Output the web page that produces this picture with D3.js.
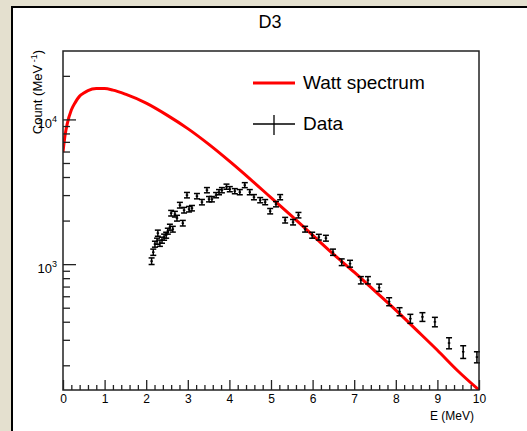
<!DOCTYPE html>
<html>
<head>
<meta charset="utf-8">
<script src="https://cdn.jsdelivr.net/npm/d3@7"></script>
<style>
  html, body { margin: 0; padding: 0; background: #e4e0cf; }
  svg { display: block; }
  text { font-family: "Liberation Sans", Arial, Helvetica, sans-serif; fill: #000; }
</style>
</head>
<body>
<script>
// ---- data ----
const wattE = [0, 0.05, 0.1, 0.2, 0.3, 0.4, 0.5, 0.6, 0.8, 1.0, 1.2, 1.5, 2.0, 2.5, 3.0, 3.5, 4.0, 4.5, 5.0, 5.5, 6.0, 6.5, 7.0, 7.5, 8.0, 8.5, 9.0, 9.5, 10.0];
const wattCount = [5940, 7790, 9280, 11600, 13170, 14490, 15200, 15810, 16330, 16330, 15940, 14950, 12960, 10710, 8640, 6750, 5150, 3870, 2880, 2146, 1586, 1172, 880, 651, 481, 350, 254, 182, 135];

const dataE = [2.13, 2.17, 2.21, 2.26, 2.28, 2.33, 2.38, 2.43, 2.48, 2.52, 2.57, 2.60, 2.64, 2.69, 2.74, 2.81, 2.88, 2.91, 2.98, 3.03, 3.10, 3.22, 3.34, 3.46, 3.51, 3.58, 3.68, 3.75, 3.82, 3.93, 4.01, 4.13, 4.25, 4.37, 4.49, 4.59, 4.74, 4.86, 4.98, 5.12, 5.22, 5.34, 5.53, 5.66, 5.82, 5.99, 6.15, 6.32, 6.49, 6.70, 6.90, 7.16, 7.33, 7.60, 7.84, 8.09, 8.35, 8.64, 8.94, 9.28, 9.62, 9.95];
const dataCount = [1049, 1210, 1375, 1442, 1638, 1397, 1465, 1537, 1586, 1691, 1802, 2251, 1745, 2216, 2079, 2557, 1920, 2361, 2999, 2399, 2438, 2951, 2683, 3246, 2813, 2813, 2999, 3145, 3246, 3432, 3298, 3195, 3145, 3516, 3145, 2904, 2769, 2683, 2324, 2598, 2904, 2014, 1951, 2181, 1745, 1586, 1537, 1512, 1210, 1032, 1008, 775, 775, 688, 551, 470, 420, 432, 399, 285, 248, 228];
const dataErr = [55, 60, 65, 70, 80, 70, 70, 75, 75, 80, 85, 100, 80, 100, 95, 115, 85, 105, 130, 105, 105, 125, 115, 135, 120, 120, 125, 130, 135, 140, 135, 130, 130, 140, 130, 120, 115, 110, 100, 110, 120, 90, 85, 95, 80, 75, 70, 70, 60, 55, 55, 45, 45, 40, 35, 30, 30, 30, 30, 25, 25, 20];
const dataXErr = 0.03;

const xMajorTicks = [0, 1, 2, 3, 4, 5, 6, 7, 8, 9, 10];
const yMajorTicks = [1000, 10000];
const yMinorTicks = [200, 300, 400, 500, 600, 700, 800, 900, 2000, 3000, 4000, 5000, 6000, 7000, 8000, 9000, 20000];

const titleText = "D3";
const xTitle = "E (MeV)";
const legendLabels = ["Watt spectrum", "Data"];

// ---- layout ----
const W = 527, H = 431;
const frame = { left: 63, right: 479, top: 51, bottom: 390 };

const svg = d3.select("body").append("svg").attr("width", W).attr("height", H);

// panel
svg.append("rect").attr("x", 11).attr("y", 7).attr("width", W).attr("height", H).attr("fill", "#fff");
svg.append("path").attr("d", `M12,${H} L12,7 L${W},7`).attr("fill", "none").attr("stroke", "#000").attr("stroke-width", 2);

const x = d3.scaleLinear().domain([0, 10]).range([frame.left, frame.right]);
const y = d3.scaleLog().domain([135, 29700]).range([frame.bottom, frame.top]);

// clip
svg.append("defs").append("clipPath").attr("id", "clip")
  .append("rect").attr("x", frame.left).attr("y", frame.top)
  .attr("width", frame.right - frame.left).attr("height", frame.bottom - frame.top);

// Watt spectrum
const watt = wattE.map((e, i) => ({ e, c: wattCount[i] }));
svg.append("path").datum(watt)
  .attr("clip-path", "url(#clip)")
  .attr("fill", "none").attr("stroke", "#ff0000").attr("stroke-width", 3)
  .attr("d", d3.line().x(d => x(d.e)).y(d => y(d.c)).curve(d3.curveMonotoneX));

// data points
const pts = dataE.map((e, i) => ({ e, c: dataCount[i], err: dataErr[i] }));
const gPts = svg.append("g").attr("stroke", "#000").attr("stroke-width", 1.5).attr("fill", "none");
const cap = 3;
pts.forEach(d => {
  const cx = x(d.e), cy = y(d.c), y1 = y(d.c + d.err), y2 = y(d.c - d.err);
  const x1 = x(d.e - dataXErr), x2 = x(d.e + dataXErr);
  gPts.append("line").attr("x1", cx).attr("x2", cx).attr("y1", y1).attr("y2", y2);
  gPts.append("line").attr("x1", cx - cap).attr("x2", cx + cap).attr("y1", y1).attr("y2", y1);
  gPts.append("line").attr("x1", cx - cap).attr("x2", cx + cap).attr("y1", y2).attr("y2", y2);
  gPts.append("line").attr("x1", x1).attr("x2", x2).attr("y1", cy).attr("y2", cy);
});

// frame
svg.append("rect").attr("x", frame.left).attr("y", frame.top)
  .attr("width", frame.right - frame.left).attr("height", frame.bottom - frame.top)
  .attr("fill", "none").attr("stroke", "#222").attr("stroke-width", 1.5);

// x axis
const xMinor = d3.range(0, 50).map(i => i * 0.2).filter(v => Math.abs(v - Math.round(v)) > 1e-6);
const gxMin = svg.append("g").attr("transform", `translate(0,${frame.bottom})`)
  .call(d3.axisBottom(x).tickValues(xMinor).tickSize(-5).tickFormat(""));
const gxMaj = svg.append("g").attr("transform", `translate(0,${frame.bottom})`)
  .call(d3.axisBottom(x).tickValues(xMajorTicks).tickSize(-10).tickPadding(4).tickFormat(d3.format("d")));
[gxMin, gxMaj].forEach(g => {
  g.select(".domain").remove();
  g.selectAll(".tick line").attr("stroke", "#222").attr("stroke-width", 1.3);
});
gxMaj.selectAll(".tick text").attr("font-size", 12).attr("font-family", "Liberation Sans, Arial, sans-serif").attr("fill", "#222");

// y axis
const gyMin = svg.append("g").attr("transform", `translate(${frame.left},0)`)
  .call(d3.axisLeft(y).tickValues(yMinorTicks).tickSize(-7).tickFormat(""));
const gyMaj = svg.append("g").attr("transform", `translate(${frame.left},0)`)
  .call(d3.axisLeft(y).tickValues(yMajorTicks).tickSize(-13).tickFormat(""));
[gyMin, gyMaj].forEach(g => {
  g.select(".domain").remove();
  g.selectAll(".tick line").attr("stroke", "#222").attr("stroke-width", 1.3);
});
gyMaj.selectAll(".tick").each(function(d) {
  const t = d3.select(this).append("text").attr("x", -6).attr("y", 8)
    .attr("text-anchor", "end").attr("font-size", 13).attr("fill", "#222");
  t.append("tspan").text("10");
  t.append("tspan").attr("font-size", 9).attr("dy", -6).text(String(Math.round(Math.log10(d))));
});

// axis titles
svg.append("text").attr("x", frame.right - 5).attr("y", 420)
  .attr("text-anchor", "end").attr("font-size", 12).attr("fill", "#222").text(xTitle);
const yt = svg.append("text").attr("transform", `translate(42,${frame.top - 1}) rotate(-90)`)
  .attr("text-anchor", "end").attr("font-size", 13).attr("fill", "#222");
yt.append("tspan").text("Count (MeV");
yt.append("tspan").attr("font-size", 9).attr("dy", -5).text(" -1");
yt.append("tspan").attr("dy", 5).text(")");

// title
svg.append("text").attr("x", 270).attr("y", 28).attr("text-anchor", "middle")
  .attr("font-size", 18).text(titleText);

// legend
svg.append("line").attr("x1", 253).attr("x2", 295).attr("y1", 83).attr("y2", 83)
  .attr("stroke", "#ff0000").attr("stroke-width", 3);
svg.append("text").attr("x", 303).attr("y", 89).attr("font-size", 19).text(legendLabels[0]);
svg.append("line").attr("x1", 253).attr("x2", 295).attr("y1", 124).attr("y2", 124)
  .attr("stroke", "#000").attr("stroke-width", 1.3);
svg.append("line").attr("x1", 274).attr("x2", 274).attr("y1", 115).attr("y2", 135)
  .attr("stroke", "#000").attr("stroke-width", 1.3);
svg.append("text").attr("x", 303).attr("y", 130).attr("font-size", 19).text(legendLabels[1]);
</script>
</body>
</html>
